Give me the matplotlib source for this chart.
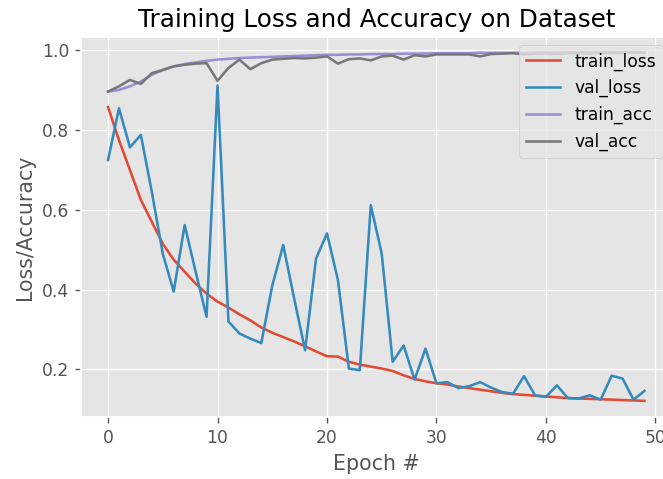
import matplotlib
matplotlib.use("Agg")
import matplotlib.pyplot as plt
import numpy as np

epochs = np.arange(0, 50)

train_loss = [0.858, 0.775, 0.700, 0.625, 0.570, 0.515, 0.475, 0.445, 0.415, 0.390,
              0.370, 0.355, 0.338, 0.323, 0.305, 0.292, 0.281, 0.270, 0.258, 0.245,
              0.233, 0.232, 0.219, 0.212, 0.207, 0.202, 0.196, 0.185, 0.176, 0.170,
              0.165, 0.162, 0.157, 0.153, 0.149, 0.145, 0.141, 0.138, 0.136, 0.134,
              0.132, 0.130, 0.128, 0.127, 0.126, 0.125, 0.124, 0.123, 0.122, 0.121]

val_loss = [0.725, 0.855, 0.757, 0.788, 0.645, 0.490, 0.395, 0.562, 0.445, 0.332,
            0.912, 0.320, 0.290, 0.277, 0.266, 0.410, 0.512, 0.378, 0.248, 0.478,
            0.541, 0.424, 0.202, 0.198, 0.612, 0.490, 0.219, 0.260, 0.174, 0.252,
            0.165, 0.168, 0.153, 0.158, 0.168, 0.154, 0.143, 0.139, 0.183, 0.135,
            0.131, 0.160, 0.128, 0.127, 0.135, 0.124, 0.184, 0.177, 0.124, 0.146]

train_acc = [0.897, 0.901, 0.910, 0.922, 0.939, 0.951, 0.960, 0.966, 0.970, 0.974,
             0.977, 0.979, 0.981, 0.982, 0.983, 0.984, 0.985, 0.986, 0.987, 0.988,
             0.989, 0.989, 0.990, 0.990, 0.991, 0.991, 0.991, 0.992, 0.992, 0.992,
             0.993, 0.993, 0.993, 0.993, 0.994, 0.994, 0.994, 0.994, 0.994, 0.995,
             0.995, 0.995, 0.995, 0.995, 0.995, 0.996, 0.996, 0.996, 0.996, 0.996]

val_acc = [0.897, 0.910, 0.926, 0.916, 0.943, 0.951, 0.960, 0.964, 0.967, 0.968,
           0.924, 0.956, 0.977, 0.953, 0.968, 0.977, 0.979, 0.981, 0.980, 0.982,
           0.985, 0.967, 0.978, 0.980, 0.975, 0.985, 0.987, 0.977, 0.988, 0.985,
           0.990, 0.990, 0.990, 0.990, 0.985, 0.991, 0.992, 0.993, 0.990, 0.992,
           0.993, 0.991, 0.993, 0.994, 0.992, 0.994, 0.993, 0.994, 0.995, 0.994]

plt.style.use("ggplot")
dpi = 123
fig = plt.figure(figsize=(663 / dpi, 479 / dpi), dpi=dpi)
ax = fig.add_axes([0.1225, 0.129, 0.890, 0.794])

ax.plot(epochs, train_loss, label="train_loss")
ax.plot(epochs, val_loss, label="val_loss")
ax.plot(epochs, train_acc, label="train_acc")
ax.plot(epochs, val_acc, label="val_acc")

ax.set_xlim(-2.45, 51.45)
ax.set_ylim(0.08, 1.034)
ax.set_title("Training Loss and Accuracy on Dataset")
ax.set_xlabel("Epoch #")
ax.set_ylabel("Loss/Accuracy")
ax.legend(loc="upper right")

fig.savefig("out.png", dpi=dpi)
